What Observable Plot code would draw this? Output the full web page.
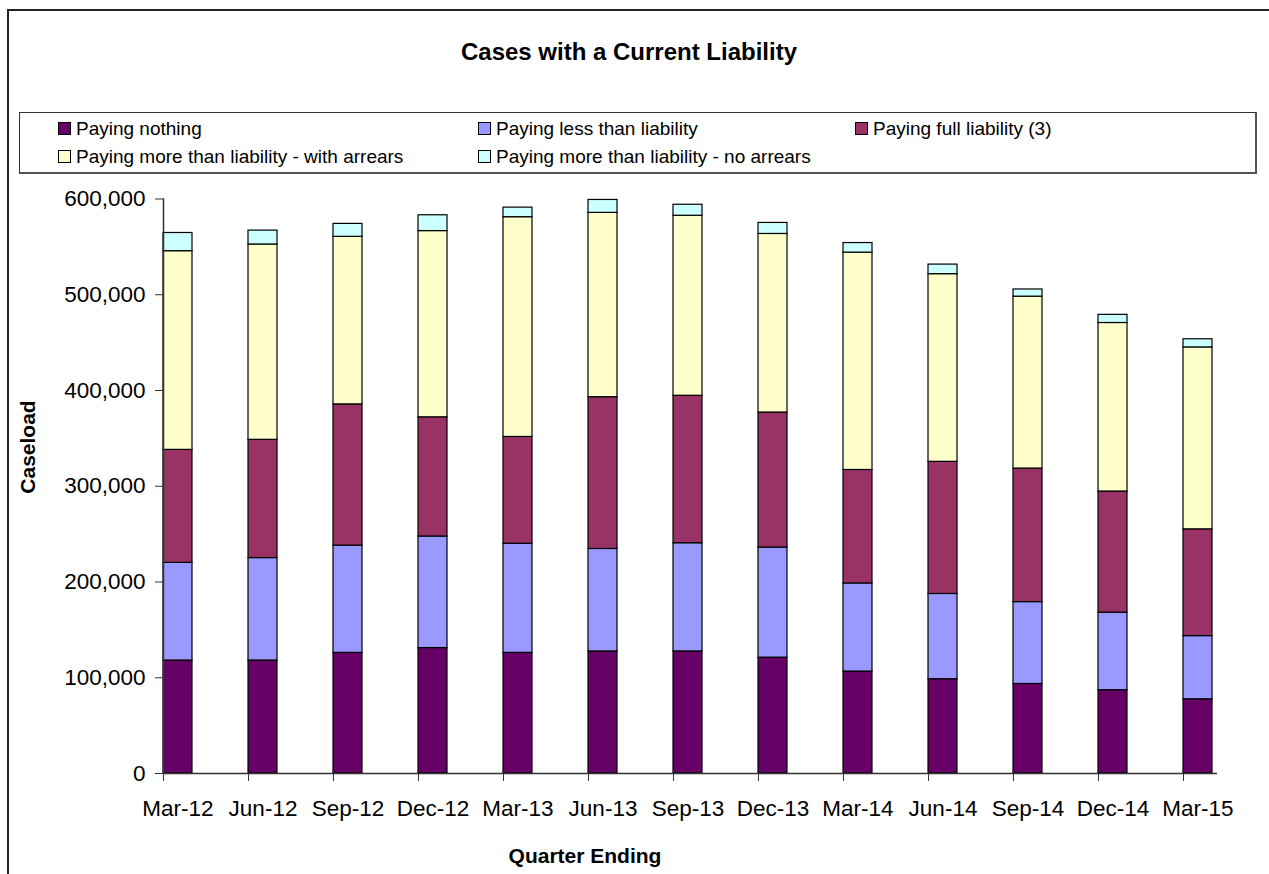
<!DOCTYPE html>
<html>
<head>
<meta charset="utf-8">
<script src="https://cdn.jsdelivr.net/npm/d3@7"></script>
<script src="https://cdn.jsdelivr.net/npm/@observablehq/plot@0.6"></script>
<style>
  html, body { margin: 0; padding: 0; background: #fff; overflow: hidden; }
  body { width: 1269px; height: 874px; position: relative; font-family: "Liberation Sans", Arial, sans-serif; color: #000; }
  #frame { position: absolute; left: 7px; top: 9px; width: 1400px; height: 1000px; border-left: 2px solid #222; border-top: 2px solid #222; }
  #title { position: absolute; left: 629px; top: 52px; transform: translate(-50%, -50%); font-weight: bold; font-size: 24px; white-space: nowrap; }
  #legend { position: absolute; left: 19px; top: 112px; width: 1235px; height: 59px; border: 1px solid #333; border-right-width: 2px; border-bottom-width: 2px; border-right-color: #555; border-bottom-color: #555; }
  .li { position: absolute; font-size: 19px; line-height: 22px; white-space: nowrap; }
  .sw { display: inline-block; width: 11px; height: 11px; border: 1px solid #000; margin-right: 5px; vertical-align: 0px; }
  #chart { position: absolute; left: 0; top: 180px; }
  #ytitle { position: absolute; left: 28px; top: 447px; transform: translate(-50%, -50%) rotate(-90deg); font-weight: bold; font-size: 21px; white-space: nowrap; }
  #xtitle { position: absolute; left: 585px; top: 856px; transform: translate(-50%, -50%); font-weight: bold; font-size: 21px; white-space: nowrap; }
</style>
</head>
<body>
<div id="frame"></div>
<div id="title">Cases with a Current Liability</div>
<div id="legend"></div>
<div id="chart"></div>
<div id="ytitle">Caseload</div>
<div id="xtitle">Quarter Ending</div>
<script>
const quarters = ["Mar-12","Jun-12","Sep-12","Dec-12","Mar-13","Jun-13","Sep-13","Dec-13","Mar-14","Jun-14","Sep-14","Dec-14","Mar-15"];
const seriesNames = [
  "Paying nothing",
  "Paying less than liability",
  "Paying full liability (3)",
  "Paying more than liability - with arrears",
  "Paying more than liability - no arrears"
];
const seriesColors = ["#660066", "#9999ff", "#993366", "#ffffcc", "#ccffff"];
const payingNothing = [118000,118000,126000,131000,126000,127500,127500,121000,106500,98500,93500,87000,77500];
const payingLess    = [102000,107000,112000,116500,114000,107000,113000,115000,92000,89000,85500,81000,66000];
const payingFull    = [118000,123500,147500,124500,111500,158500,154000,141000,118500,138000,139500,126500,111500];
const moreArrears   = [207500,204000,175000,194500,229500,192500,188000,186500,227000,196000,179500,176000,190000];
const moreNoArrears = [19000,14500,13500,16500,10000,13500,11500,11500,10000,10000,7500,8500,8500];
const yTicks = [0,100000,200000,300000,400000,500000,600000];

const seriesValues = [payingNothing, payingLess, payingFull, moreArrears, moreNoArrears];
const data = [];
seriesValues.forEach((vals, s) => vals.forEach((v, i) => data.push({quarter: quarters[i], series: seriesNames[s], value: v})));

// legend
const legend = document.getElementById("legend");
const legendPos = [[38,5],[458,5],[835,5],[38,33],[458,33]];
seriesNames.forEach((name, i) => {
  const d = document.createElement("div");
  d.className = "li";
  d.style.left = legendPos[i][0] + "px";
  d.style.top = legendPos[i][1] + "px";
  d.innerHTML = `<span class="sw" style="background:${seriesColors[i]}"></span>` + name;
  legend.appendChild(d);
});

const W = 1269, H = 694;
const mL = 163, mR = 52, mT = 18.5, mB = 101;
const padIn = 0.66;
const step = (W - mL - mR) / (quarters.length - padIn);
const bw = step * (1 - padIn);

const chart = Plot.plot({
  width: W, height: H,
  marginLeft: mL, marginRight: mR, marginTop: mT, marginBottom: mB,
  style: {fontFamily: "Liberation Sans, Arial, sans-serif", fontSize: "22.5px", color: "#000", background: "transparent"},
  x: {type: "band", domain: quarters, paddingInner: padIn, paddingOuter: 0, align: 0},
  y: {domain: [0, 600000]},
  color: {domain: seriesNames, range: seriesColors},
  marks: [
    Plot.barY(data, {x: "quarter", y: "value", fill: "series", stroke: "#000", strokeWidth: 1.2}),
    Plot.axisY({ticks: yTicks, tickSize: 8, tickPadding: 10, tickFormat: d3.format(","), label: null, fontSize: 22.5, stroke: "#333"}),
    Plot.axisX({tickSize: 8, tickFormat: () => "", dx: -bw / 2, label: null, stroke: "#333"}),
    Plot.axisX({tickSize: 0, tickPadding: 27, label: null, fontSize: 22.5}),
    Plot.ruleY([0], {stroke: "#333", strokeWidth: 1.5}),
    Plot.frame({anchor: "left", stroke: "#333", strokeWidth: 1.5})
  ]
});
document.getElementById("chart").appendChild(chart);
</script>
</body>
</html>
